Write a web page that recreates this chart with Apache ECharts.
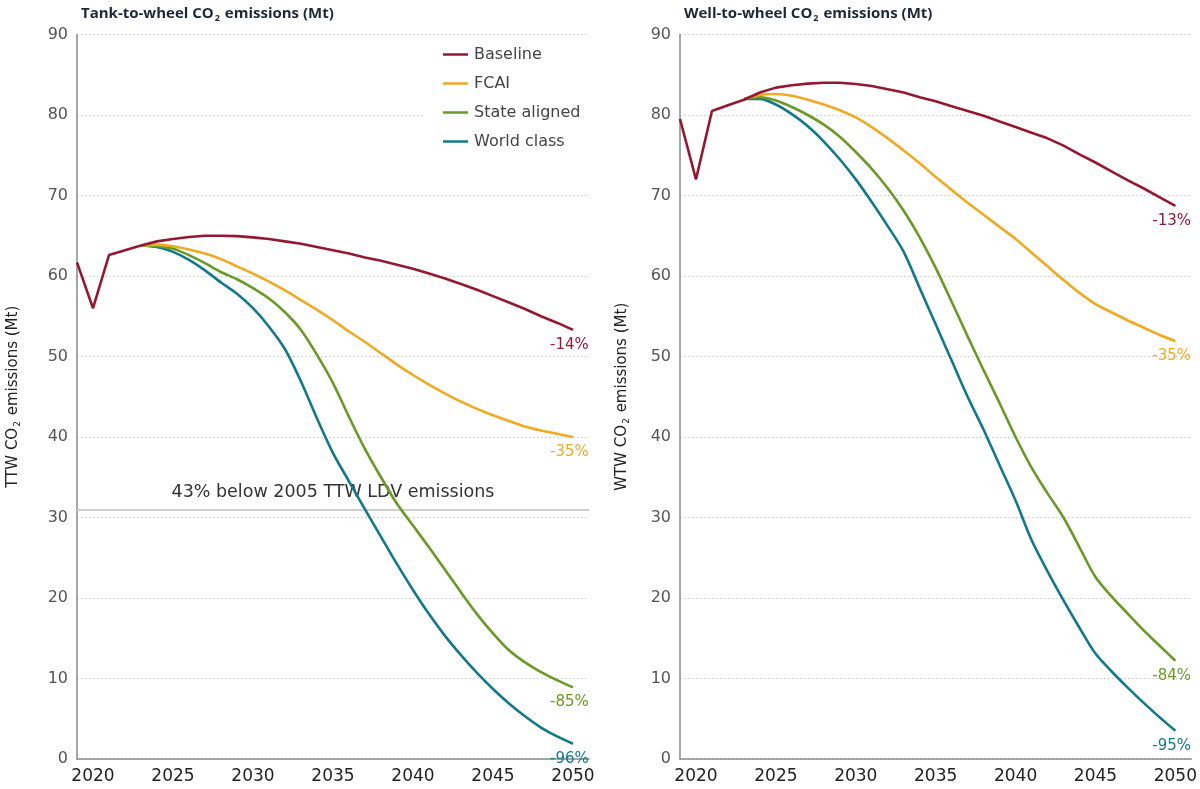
<!DOCTYPE html>
<html>
<head>
<meta charset="utf-8">
<script src="https://cdn.jsdelivr.net/npm/echarts@6.0.0/dist/echarts.min.js"></script>
<style>
html,body{margin:0;padding:0;background:#fff;}
#chart{width:1200px;height:789px;}
</style>
</head>
<body>
<div id="chart"></div>
<script>
// ---- data ----
const years = [2019,2020,2021,2022,2023,2024,2025,2026,2027,2028,2029,2030,2031,2032,2033,2034,2035,2036,2037,2038,2039,2040,2041,2042,2043,2044,2045,2046,2047,2048,2049,2050];
const scenarioYears = [2023,2024,2025,2026,2027,2028,2029,2030,2031,2032,2033,2034,2035,2036,2037,2038,2039,2040,2041,2042,2043,2044,2045,2046,2047,2048,2049,2050];
const xTicks = [2020,2025,2030,2035,2040,2045,2050];
const yTicks = [0,10,20,30,40,50,60,70,80,90];
const seriesNames = ['Baseline','FCAI','State aligned','World class'];

// Tank-to-wheel (Mt)
const ttwBaseline = [61.7,56.0,62.6,63.2,63.8,64.3,64.6,64.85,65.0,65.0,64.95,64.8,64.6,64.3,64.0,63.6,63.2,62.8,62.3,61.9,61.4,60.9,60.3,59.7,59.0,58.3,57.5,56.7,55.9,55.0,54.2,53.3];
const ttwFcai = [63.8,63.9,63.7,63.3,62.8,62.1,61.2,60.3,59.3,58.2,57.0,55.8,54.5,53.1,51.8,50.4,49.0,47.7,46.5,45.4,44.4,43.5,42.7,42.0,41.3,40.8,40.4,40.0];
const ttwState = [63.8,63.7,63.4,62.6,61.6,60.5,59.6,58.5,57.2,55.5,53.3,50.2,46.7,42.5,38.5,35.0,31.7,29.0,26.3,23.5,20.7,18.0,15.6,13.5,12.0,10.8,9.8,8.9];
const ttwWorld = [63.8,63.6,63.0,62.0,60.7,59.2,57.8,56.0,53.7,50.9,46.9,42.3,38.0,34.5,31.0,27.6,24.2,21.0,18.0,15.3,12.9,10.7,8.7,6.9,5.3,3.9,2.8,1.9];
const ttwEndLabels = ['-14%','-35%','-85%','-96%'];
const ttwTarget = 31;
const ttwTargetLabel = '43% below 2005 TTW LDV emissions';

// Well-to-wheel (Mt)
const wtwBaseline = [79.5,72.0,80.5,81.2,81.9,82.8,83.4,83.7,83.9,84.0,84.0,83.85,83.6,83.2,82.8,82.2,81.7,81.1,80.5,79.9,79.2,78.5,77.8,77.1,76.2,75.1,74.1,73.0,71.9,70.9,69.8,68.7];
const wtwFcai = [82.0,82.5,82.6,82.4,81.9,81.3,80.6,79.7,78.5,77.1,75.6,74.0,72.3,70.7,69.1,67.6,66.1,64.6,62.9,61.2,59.5,57.9,56.5,55.5,54.5,53.6,52.7,51.9];
const wtwState = [82.0,82.2,81.8,81.0,80.0,78.8,77.3,75.4,73.3,70.9,68.1,64.8,61.0,56.8,52.5,48.3,44.2,40.0,36.2,33.0,30.0,26.3,22.6,20.2,18.1,16.0,14.1,12.2];
const wtwWorld = [82.0,82.0,81.3,80.1,78.6,76.7,74.5,72.0,69.2,66.2,63.0,58.5,54.0,49.5,45.0,40.9,36.5,32.1,27.2,23.3,19.7,16.3,13.1,10.9,8.9,7.0,5.2,3.5];
const wtwEndLabels = ['-13%','-35%','-84%','-95%'];

// ---- styling ----
const colors = ['#951832','#f0aa22','#6a9a26','#12788c'];
const FONT = '"DejaVu Sans", "Noto Sans", sans-serif';
const TFONT = '"Open Sans", "Noto Sans", sans-serif';

function pairs(xs, vals) {
  return xs.map((x, i) => [x, vals[i]]);
}

function makeSeries(idx, name, xs, vals, endLabel, extra) {
  const c = colors[seriesNames.indexOf(name)];
  return Object.assign({
    type: 'line', name: name,
    xAxisIndex: idx, yAxisIndex: idx,
    data: pairs(xs, vals),
    symbol: 'none', showSymbol: false,
    smooth: name === 'Baseline' ? false : 0.3,
    lineStyle: { width: 2.6, color: c },
    itemStyle: { color: c },
    endLabel: {
      show: true, formatter: endLabel, color: c, fontSize: 15, fontFamily: FONT,
      distance: 0, offset: [-23, 15]
    },
    z: 10 - seriesNames.indexOf(name),
    emphasis: { disabled: true },
    animation: false
  }, extra || {});
}

const titleRich = {
  a: { fontSize: 15, fontWeight: 'bold', color: '#1d2835', fontFamily: TFONT },
  s: { fontSize: 9, fontWeight: 'bold', color: '#1d2835', fontFamily: TFONT, padding: [9, 1, 0, 1] }
};
const nameRich = {
  a: { fontSize: 15, color: '#222', fontFamily: FONT },
  s: { fontSize: 9, color: '#222', fontFamily: FONT, padding: [9, 1, 0, 1] }
};

function xAxis(idx) {
  return {
    type: 'value', gridIndex: idx, min: 2019, max: 2051,
    axisLine: { show: true, lineStyle: { color: '#8a8a8a', width: 1.5 } },
    axisTick: { show: false },
    splitLine: { show: false },
    axisLabel: { customValues: xTicks, formatter: v => String(v), color: '#222', fontSize: 17, fontFamily: FONT, margin: 9 }
  };
}
function yAxis(idx, nameText, gap) {
  return {
    type: 'value', gridIndex: idx, min: 0, max: 90, interval: 10,
    name: nameText, nameLocation: 'middle', nameGap: gap, nameRotate: 90,
    nameTextStyle: { rich: nameRich },
    axisLine: { show: true, lineStyle: { color: '#8a8a8a', width: 1.5 } },
    axisTick: { show: false },
    splitLine: { show: true, lineStyle: { color: '#c8c8c8', type: [1.5, 2.5], width: 1 } },
    axisLabel: { customValues: yTicks, color: '#555', fontSize: 16, fontFamily: FONT, margin: 9 }
  };
}

const series = [
  makeSeries(0, 'Baseline', years, ttwBaseline, ttwEndLabels[0], {
    markLine: {
      silent: true, symbol: 'none', animation: false,
      lineStyle: { color: '#cfcfcf', width: 2, type: 'solid' },
      label: { show: true, position: 'insideMiddleTop', distance: 8, formatter: ttwTargetLabel,
               color: '#333', fontSize: 17.5, fontFamily: FONT },
      data: [{ yAxis: ttwTarget }]
    }
  }),
  makeSeries(0, 'FCAI', scenarioYears, ttwFcai, ttwEndLabels[1]),
  makeSeries(0, 'State aligned', scenarioYears, ttwState, ttwEndLabels[2]),
  makeSeries(0, 'World class', scenarioYears, ttwWorld, ttwEndLabels[3]),
  makeSeries(1, 'Baseline', years, wtwBaseline, wtwEndLabels[0]),
  makeSeries(1, 'FCAI', scenarioYears, wtwFcai, wtwEndLabels[1]),
  makeSeries(1, 'State aligned', scenarioYears, wtwState, wtwEndLabels[2]),
  makeSeries(1, 'World class', scenarioYears, wtwWorld, wtwEndLabels[3])
];

const chart = echarts.init(document.getElementById('chart'), null, { renderer: 'canvas' });
chart.setOption({
  backgroundColor: '#ffffff',
  animation: false,
  title: [
    { left: 76, top: 0, text: '{a|Tank-to-wheel CO}{s|2}{a| emissions (Mt)}', textStyle: { rich: titleRich } },
    { left: 679, top: 0, text: '{a|Well-to-wheel CO}{s|2}{a| emissions (Mt)}', textStyle: { rich: titleRich } }
  ],
  legend: {
    orient: 'vertical', left: 423, top: 38,
    data: seriesNames,
    icon: 'rect',
    backgroundColor: '#ffffff',
    padding: [7, 8, 12, 20],
    itemWidth: 25, itemHeight: 2.5, itemGap: 10,
    textStyle: { color: '#444', fontSize: 16, fontFamily: FONT, lineHeight: 19, padding: [0, 0, 0, 1] },
    selectedMode: false
  },
  grid: [
    { left: 77, right: 611, top: 34.5, bottom: 30, containLabel: false },
    { left: 680, right: 7, top: 34.5, bottom: 30, containLabel: false }
  ],
  xAxis: [xAxis(0), xAxis(1)],
  yAxis: [
    yAxis(0, '{a|TTW CO}{s|2}{a| emissions (Mt)}', 55),
    yAxis(1, '{a|WTW CO}{s|2}{a| emissions (Mt)}', 49)
  ],
  series: series
});
</script>
</body>
</html>
